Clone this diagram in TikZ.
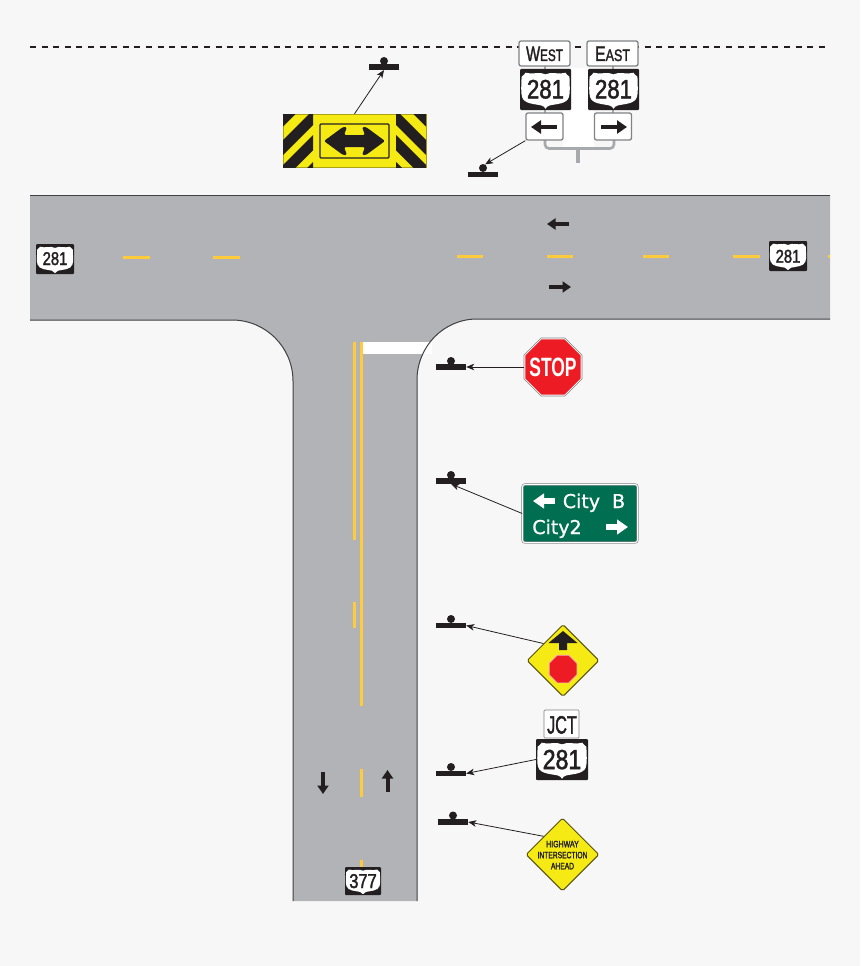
\documentclass[tikz,border=0pt]{standalone}
\usepackage{fontspec}
\setmainfont{Liberation Sans}
\newfontfamily\hwyfont[FakeBold=2]{Liberation Sans}
\newfontfamily\stopfont{Liberation Sans Bold}
\newfontfamily\guidefont[FakeBold=1]{DejaVu Sans}
\usetikzlibrary{arrows.meta,shapes.geometric}
\definecolor{bgc}{HTML}{F7F7F7}
\definecolor{roadc}{HTML}{B1B3B6}
\definecolor{edgec}{HTML}{414042}
\definecolor{linec}{HTML}{FFCB3A}
\definecolor{inkc}{HTML}{231F20}
\definecolor{signy}{HTML}{F5EA14}
\definecolor{stopc}{HTML}{ED1C24}
\definecolor{guidec}{HTML}{006F51}
\definecolor{framec}{HTML}{808285}
\definecolor{postc}{HTML}{A7A9AC}
\tikzset{
  leader/.style={draw=inkc,line width=0.8pt,-{Stealth[length=8pt,width=6.5pt,inset=2.2pt]}},
  markline/.style={line width=3pt,draw=linec},
  roadedge/.style={draw=edgec,line width=1pt},
  roadarrow/.style={draw=inkc,line width=4pt,-{Triangle[length=8.5pt,width=11pt]}},
  platearrow/.style={draw=inkc,line width=3.8pt,-{Triangle[length=10pt,width=13pt]}},
  guidearrow/.style={draw=white,line width=5.5pt,-{Triangle[length=11pt,width=14.5pt]}},
  postbar/.style={fill=inkc,inner sep=0pt,minimum width=30pt,minimum height=5.6pt},
  postdot/.style={circle,fill=inkc,inner sep=0pt,minimum size=8pt},
  plaque/.style={draw=framec,fill=white,line width=1.3pt,rounded corners=2pt,inner sep=0pt},
  shieldbox/.style={fill=inkc,rounded corners=1pt,inner sep=0pt},
  support/.style={draw=postc,line width=2.6pt},
  txt/.style={anchor=base,inner sep=0pt,text=inkc},
}
\newcommand{\postmark}[4]{% name, bar x, bar y, dot y
  \node[postbar] (#1) at (#2,#3) {};
  \node[postdot] (#1d) at (#2,#4) {};
}
\newcommand{\hwyshield}[9]{% name, cx, cy, w, h, size, xscale, baseline, text
  \node[shieldbox,minimum width=#4pt,minimum height=#5pt] (#1) at (#2,#3) {};
  \begin{scope}[shift={(#2,#3)},xscale=#4,yscale=#5]
    \fill[white] (0,-.37)
      .. controls (-.12,-.45) and (-.26,-.35) .. (-.39,-.41)
      .. controls (-.41,-.37) and (-.44,-.34) .. (-.47,-.31)
      .. controls (-.47,-.12) and (-.49,.06) .. (-.46,.18)
      .. controls (-.42,.36) and (-.20,.35) .. (-.08,.39)
      .. controls (-.04,.40) and (-.02,.43) .. (0,.47)
      .. controls (.02,.43) and (.04,.40) .. (.08,.39)
      .. controls (.20,.35) and (.42,.36) .. (.46,.18)
      .. controls (.49,.06) and (.47,-.12) .. (.47,-.31)
      .. controls (.44,-.34) and (.41,-.37) .. (.39,-.41)
      .. controls (.26,-.35) and (.12,-.45) .. (0,-.37) -- cycle;
  \end{scope}
  \node[txt,font=\hwyfont\fontsize{#6}{#6}\selectfont] (#1t) at (#2,#8) {\scalebox{#7}[1]{#9}};
}
\begin{document}
\begin{tikzpicture}[x=1pt,y=-1pt]
\useasboundingbox (0,0) rectangle (860,966);
\fill[bgc] (0,0) rectangle (860,966);

% right-of-way line
\draw[inkc,line width=2.4pt,dash pattern=on 6pt off 5.6pt] (30,47) -- (830,47);

% road surface
\fill[roadc] (30,195) -- (830,195) -- (830,319) -- (477,319)
  arc[start angle=90,end angle=180,x radius=60,y radius=-61] -- (417,901) -- (293,901) -- (293,381)
  arc[start angle=0,end angle=90,x radius=61,y radius=-61] -- (30,320) -- cycle;
\fill[white] (362,342) rectangle (432,354);
\draw[roadedge] (30,195) -- (830,195);
\draw[roadedge] (30,320) -- (232,320)
  arc[start angle=90,end angle=0,x radius=61,y radius=-61] -- (293,901);
\draw[roadedge] (830,319) -- (477,319)
  arc[start angle=90,end angle=180,x radius=60,y radius=-61] -- (417,901);

% markings
\foreach \a/\b in {123/150,213/240}{\draw[markline] (\a,257.5) -- (\b,257.5);}
\foreach \a/\b in {457/483,547/573,643/669,733/760,828/830}{\draw[markline] (\a,256) -- (\b,256);}
\draw[markline] (354.5,342) -- (354.5,540);
\draw[markline] (354.5,602) -- (354.5,628);
\draw[markline] (361,342) -- (361,706);
\draw[markline] (361,769) -- (361,797);
\draw[markline] (361,860) -- (361,870);

% direction arrows
\coordinate (wa1) at (569,224); \coordinate (wa2) at (547,224);
\coordinate (ea1) at (549,287); \coordinate (ea2) at (571,287);
\coordinate (sa1) at (323,772); \coordinate (sa2) at (323,794);
\coordinate (na1) at (387.5,792); \coordinate (na2) at (387.5,770);
\draw[roadarrow] (wa1) -- (wa2);
\draw[roadarrow] (ea1) -- (ea2);
\draw[roadarrow] (sa1) -- (sa2);
\draw[roadarrow] (na1) -- (na2);

% route markers on pavement
\hwyshield{rw}{55}{259}{38}{30}{18.5}{.8}{265}{281}
\hwyshield{re}{788}{256}{38}{30}{18.5}{.8}{262.7}{281}
\hwyshield{rs}{363}{881}{36}{28}{20}{.82}{888}{377}

% post symbols
\postmark{pa}{384}{67}{61}
\postmark{pb}{483}{174.5}{168}
\postmark{pc}{451}{367}{361}
\postmark{pd}{451}{481}{475}
\postmark{pe}{451}{625.5}{619}
\postmark{pf}{451}{773.5}{767}
\postmark{pg}{453}{822}{815.5}

% directional assembly
\fill[white] (571,68) rectangle (588,113);
\fill[white] (563,110) rectangle (594,148);
\draw[support] (545,66) -- (545,69) (613,66) -- (613,69)
  (545,110) -- (545,113) (613,110) -- (613,113);
\draw[support,rounded corners=4pt] (545,140) -- (545,148.5) -- (614,148.5) -- (614,140);
\draw[support,line width=4pt] (578,148.5) -- (578,163);
\node[plaque,minimum width=51pt,minimum height=25pt] (west) at (544.5,53.5) {};
\node[plaque,minimum width=51pt,minimum height=25pt] (east) at (612.5,53.5) {};
\node[txt,font=\hwyfont\fontsize{21}{21}\selectfont] (westt) at (544.5,61)
  {\scalebox{.71}[1]{W\fontsize{16.5}{16.5}\selectfont EST}};
\node[txt,font=\hwyfont\fontsize{21}{21}\selectfont] (eastt) at (612.5,61)
  {\scalebox{.76}[1]{E\fontsize{16.5}{16.5}\selectfont AST}};
\hwyshield{sw}{545.5}{89.5}{51}{41}{26.5}{.84}{98.3}{281}
\hwyshield{se}{613.5}{89.5}{51}{41}{26.5}{.84}{98.3}{281}
\node[plaque,minimum width=37pt,minimum height=27pt] (pw) at (544.5,126.5) {};
\node[plaque,minimum width=37pt,minimum height=27pt] (pe2) at (613,126.5) {};
\coordinate (pw1) at (557,127); \coordinate (pw2) at (531,127);
\coordinate (pe1) at (601,127); \coordinate (pe3) at (627,127);
\draw[platearrow] (pw1) -- (pw2);
\draw[platearrow] (pe1) -- (pe3);

% wide yellow chevron sign
\node[fill=signy,draw=signy!70!black,line width=.4pt,inner sep=0pt,minimum width=143pt,minimum height=53pt] (chev) at (354.5,140.5) {};
\begin{scope}
  \clip (283,114) rectangle (313,167);
  \foreach \a/\b in {380/409.7,423/438,448/463.3,475/493}{
    \fill[inkc] (283,\a-283) -- (283,\b-283) -- (313,\b-313) -- (313,\a-313) -- cycle;}
\end{scope}
\begin{scope}
  \clip (396,114) rectangle (426,167);
  \foreach \a/\b in {380/409.7,423/438,448/463.3,475/493}{
    \fill[inkc] (426,\a-283) -- (426,\b-283) -- (396,\b-313) -- (396,\a-313) -- cycle;}
\end{scope}
\node[draw=inkc,line width=1.2pt,inner sep=0pt,minimum width=69pt,minimum height=34pt,rounded corners=1pt] (chevf) at (354.5,141) {};
\fill[inkc,rounded corners=1.5pt] (324,141) -- (343,127) -- (347,127) -- (344,135) -- (365,135)
  -- (362,127) -- (366,127) -- (385,141) -- (366,155) -- (362,155) -- (365,147) -- (344,147)
  -- (347,155) -- (343,155) -- cycle;

% stop sign
\node[regular polygon,regular polygon sides=8,draw=framec,fill=white,line width=.6pt,inner sep=0pt,minimum size=62.8pt] (stop) at (553,367) {};
\node[regular polygon,regular polygon sides=8,fill=stopc,inner sep=0pt,minimum size=60pt] (stopi) at (553,367) {};
\node[txt,text=white,font=\stopfont\fontsize{26.5}{26.5}\selectfont] (stopt) at (553,376)
  {\scalebox{.66}[1]{STOP}};

% guide sign
\node[fill=guidec,draw=framec,line width=.6pt,double=white,double distance=1pt,rounded corners=2.5pt,inner sep=0pt,minimum width=115pt,minimum height=58pt] (guide) at (580,513.5) {};
\coordinate (g1) at (555,501); \coordinate (g2) at (533,501);
\coordinate (g3) at (606,527); \coordinate (g4) at (628,527);
\draw[guidearrow] (g1) -- (g2);
\draw[guidearrow] (g3) -- (g4);
\node[txt,text=white,font=\guidefont\fontsize{19}{19}\selectfont] (gb) at (594,508) {City\hspace{6pt} B};
\node[txt,text=white,font=\guidefont\fontsize{19}{19}\selectfont] (gc) at (557,534) {City2};

% stop ahead sign
\node[diamond,fill=signy,draw=signy!35!black,line width=1pt,inner sep=0pt,minimum width=72pt,minimum height=72pt,rounded corners=1.5pt] (ahead) at (563,660.5) {};
\fill[inkc] (563,631) -- (577.5,643) -- (567,643) -- (567,650) -- (559,650) -- (559,643) -- (548.5,643) -- cycle;
\node[regular polygon,regular polygon sides=8,fill=stopc,draw=white!70!stopc,line width=.7pt,inner sep=0pt,minimum size=30pt] (aheadi) at (563,669) {};

% junction assembly
\node[plaque,line width=.7pt,rounded corners=1pt,minimum width=35pt,minimum height=28pt] (jct) at (561.5,724) {};
\node[txt,font=\hwyfont\fontsize{25}{25}\selectfont] (jctt) at (562,733.5) {\scalebox{.65}[1]{JCT}};
\hwyshield{js}{562}{759.5}{52}{41}{27.5}{.84}{769}{281}

% highway intersection ahead sign
\node[diamond,fill=signy,draw=signy!35!black,line width=1pt,inner sep=0pt,minimum width=73pt,minimum height=73pt,rounded corners=1.5pt] (warn) at (562.5,854.5) {};
\node[anchor=center,inner sep=0pt,align=center,text=inkc,font=\hwyfont\fontsize{9.3}{11}\selectfont] (warnt) at (562.5,855)
  {\scalebox{.75}[1]{HIGHWAY}\\\scalebox{.72}[1]{INTERSECTION}\\\scalebox{.72}[1]{AHEAD}};

% leaders
\draw[leader] (chev.north) -- (pa.south);
\draw[leader] (pw.south west) -- (pbd.60);
\draw[leader] (stop.west) -- (pc.east);
\draw[leader] (guide.west) -- (pd.south);
\draw[leader] (ahead.139) -- (pe.east);
\draw[leader] (js.west) -- (pf.east);
\draw[leader] (warn.136) -- (pg.east);
\end{tikzpicture}
\end{document}
